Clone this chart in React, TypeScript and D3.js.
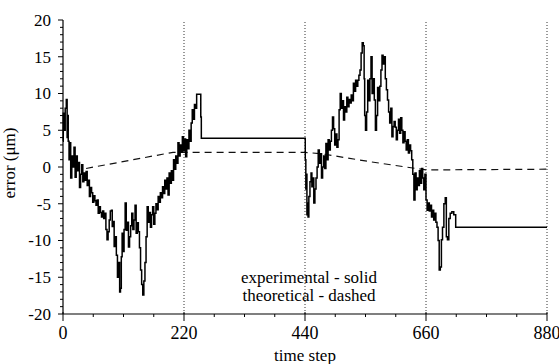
import React from 'react';
import * as d3 from 'd3';

// experimental error (solid), [time step, error in µm]
const experimental: [number, number][] = [
  [0, 3.5], [1, 7.3], [3, 5], [5, 8], [7, 9.2], [8, 4], [9, 7], [10, 3.5], [12, 1], [13, 3.3],
  [15, -1.5], [17, 1.5], [19, 0], [21, 2.7], [23, -1.4], [25, 1.5], [27, -0.5], [29, 0.6], [31, -2.8],
  [33, -1], [35, 0.3], [37, -2], [39, -0.8], [41, -1.8], [43, -0.6], [45, -2.5], [47, -1.8], [49, -4],
  [51, -2.8], [53, -3.5], [55, -4.8], [57, -3.9], [59, -4.6], [61, -5.2], [63, -4.5], [65, -6.3],
  [67, -5.4], [69, -6.2], [71, -6.8], [73, -6], [75, -7], [77, -6.3], [79, -8.5], [81, -9.9], [83, -8.8],
  [85, -7.2], [87, -6], [89, -5.9], [90, -8.1], [92, -7.4], [94, -10.8], [96, -9.5], [98, -12],
  [100, -15], [102, -13], [104, -17], [105, -16.5], [107, -12.2], [108, -9], [110, -11.5], [112, -8.5],
  [114, -4.9], [116, -8.6], [118, -7.5], [120, -10.9], [122, -9.5], [124, -8], [126, -6.3], [128, -8.5],
  [130, -7.2], [132, -5.2], [134, -9], [136, -7.6], [138, -8.8], [140, -11], [142, -14], [144, -16],
  [146, -17.4], [148, -15.5], [150, -13], [152, -9.5], [154, -5.4], [156, -7.5], [158, -6.2], [160, -8.2],
  [162, -6.5], [164, -5.4], [166, -7.8], [168, -6.3], [170, -5], [172, -5.8], [174, -4], [176, -4.8],
  [178, -3.5], [180, -4.2], [182, -2.7], [184, -3.6], [186, -1.8], [188, -3], [190, -1.5], [192, -3.8],
  [194, -0.8], [196, -2.2], [198, -0.5], [200, -1.8], [202, 1], [204, -0.3], [206, 1.5], [208, 0.5],
  [210, 3.3], [212, 1.5], [214, 3], [216, 2], [218, 4.1], [220, 2.2], [222, 3.8], [224, 1.4], [226, 3.7],
  [228, 2.5], [230, 5], [232, 3.5], [234, 6], [236, 7.8], [238, 6.5], [240, 8.5], [242, 8], [244, 9.9],
  [250, 9.9], [251, 6.8], [252, 3.9], [440, 3.9],
  [441, 1], [442, -3], [443, -1], [444, -6.5], [445, -4.9], [446, -6.8], [448, -4], [450, -2],
  [452, -0.8], [453, -2.7], [455, -1.5], [457, -4.9], [459, -3], [461, -1.5], [463, 0], [465, 2.3],
  [467, 0.5], [469, 1.8], [471, -1.5], [473, 0], [475, 1.5], [477, -0.2], [479, 3.2], [481, 1], [483, 3.7],
  [485, 2.3], [487, 3.5], [489, 5], [491, 6.8], [493, 5.2], [495, 3], [497, 4.5], [499, 2.7], [501, 3.7],
  [503, 7.8], [505, 10], [507, 8], [509, 9], [511, 6.4], [513, 8.2], [515, 7.5], [517, 9.5], [519, 8.2],
  [521, 9.2], [523, 8.7], [525, 9.8], [527, 9], [529, 11.4], [531, 10.3], [533, 11.8], [535, 11],
  [537, 11.8], [539, 12.5], [541, 13.2], [543, 15.5], [545, 16.9], [547, 16.5], [548, 12], [549, 7],
  [551, 5], [553, 7.5], [555, 11.8], [557, 9], [559, 12], [561, 15], [563, 10], [565, 12], [567, 9.1],
  [569, 5], [571, 7], [573, 10.8], [575, 9], [577, 11], [579, 13.2], [581, 15.2], [583, 14], [585, 15],
  [587, 12], [589, 10.5], [591, 9.1], [593, 7.5], [595, 6], [597, 8], [599, 4.1], [601, 5.5], [603, 6.2],
  [605, 5.4], [607, 3.7], [609, 5], [611, 6.5], [613, 4.6], [615, 6.7], [617, 5], [619, 3.3], [621, 4.8],
  [623, 3.5], [625, 2.3], [627, 3.7], [629, 1.9], [631, 3], [633, 2.2], [635, 1], [637, -1], [639, -4.5],
  [641, -0.8], [643, -3.1], [645, -1.5], [647, -2.5], [649, -0.5], [651, -2.2], [653, -0.2], [655, -1.5],
  [657, -3.1], [659, -1], [661, -4.5], [663, -5.9], [665, -4.9], [667, -6], [669, -5.2], [671, -6.8],
  [673, -5.9], [675, -7.2], [677, -6.3], [679, -7.5], [681, -8.2], [683, -10], [685, -14], [687, -13.6],
  [689, -9.9], [691, -8.2], [694, -5], [696, -4.2], [698, -9.5], [700, -9.9], [703, -7], [705, -6.3],
  [709, -6.1], [712, -6.5], [716, -8.2], [880, -8.2],
];

// theoretical error (dashed)
const theoretical: [number, number][] = [
  [42, -0.2], [200, 2.0], [440, 2.0], [470, 1.8], [560, 0.7], [660, -0.4], [880, -0.3],
];

const xMajor = [0, 220, 440, 660, 880];
const xMinor = [55, 110, 165, 275, 330, 385, 495, 550, 605, 715, 770, 825];
const yMajor = [-20, -15, -10, -5, 0, 5, 10, 15, 20];
const sections = [220, 440, 660, 880];
const legendLines = ['experimental - solid', 'theoretical - dashed'];

const W = 559;
const H = 364;
const FONT = "Times New Roman, Liberation Serif, DejaVu Serif, serif";

export default function App() {
  const x = d3.scaleLinear().domain([0, 880]).range([63, 547]);
  const y = d3.scaleLinear().domain([-20, 20]).range([314, 20]);
  const solid = d3.line<[number, number]>().x(d => x(d[0])).y(d => y(d[1])).curve(d3.curveStep);
  const dashed = d3.line<[number, number]>().x(d => x(d[0])).y(d => y(d[1]));
  const yMinor = d3.range(-20, 21, 1).filter(v => v % 5 !== 0);

  return (
    <svg width={W} height={H} style={{position: 'absolute', left: 0, top: 0, background: '#fff'}}
         fontFamily={FONT}>
      {sections.map(s => (
        <line key={s} x1={x(s)} x2={x(s)} y1={y(20) + 2} y2={y(-20)}
              stroke="#333" strokeWidth={1} strokeDasharray="1,2"/>
      ))}
      <path d={dashed(theoretical) ?? ''} fill="none" stroke="#111" strokeWidth={1.2}
            strokeDasharray="7,5"/>
      <path d={solid(experimental) ?? ''} fill="none" stroke="#000" strokeWidth={1.5}/>

      {/* y axis */}
      <line x1={x(0)} x2={x(0)} y1={y(20)} y2={y(-20)} stroke="#000" strokeWidth={1.2}/>
      {yMajor.map(v => (
        <g key={v}>
          <line x1={x(0) - 5} x2={x(0)} y1={y(v)} y2={y(v)} stroke="#000"/>
          <text x={x(0) - 12} y={y(v)} dy="0.35em" textAnchor="end" fontSize={17}>{v}</text>
        </g>
      ))}
      {yMinor.map(v => (
        <line key={v} x1={x(0) - 3} x2={x(0)} y1={y(v)} y2={y(v)} stroke="#000"/>
      ))}

      {/* x axis */}
      <line x1={x(0)} x2={x(880)} y1={y(-20)} y2={y(-20)} stroke="#000" strokeWidth={1.2}/>
      {xMajor.map(v => (
        <g key={v}>
          <line x1={x(v)} x2={x(v)} y1={y(-20) - 2} y2={y(-20) + 7} stroke="#000"/>
          <text x={x(v)} y={y(-20) + 25} textAnchor="middle" fontSize={18}>{v}</text>
        </g>
      ))}
      {xMinor.map(v => (
        <line key={v} x1={x(v)} x2={x(v)} y1={y(-20)} y2={y(-20) + 3} stroke="#000"/>
      ))}

      <text x={305} y={361} textAnchor="middle" fontSize={17}>time step</text>
      <text transform="translate(15,163) rotate(-90)" textAnchor="middle" fontSize={17}>error (μm)</text>

      {legendLines.map((t, i) => (
        <text key={t} x={309} y={283 + i * 18} textAnchor="middle" fontSize={17}>{t}</text>
      ))}
    </svg>
  );
}
